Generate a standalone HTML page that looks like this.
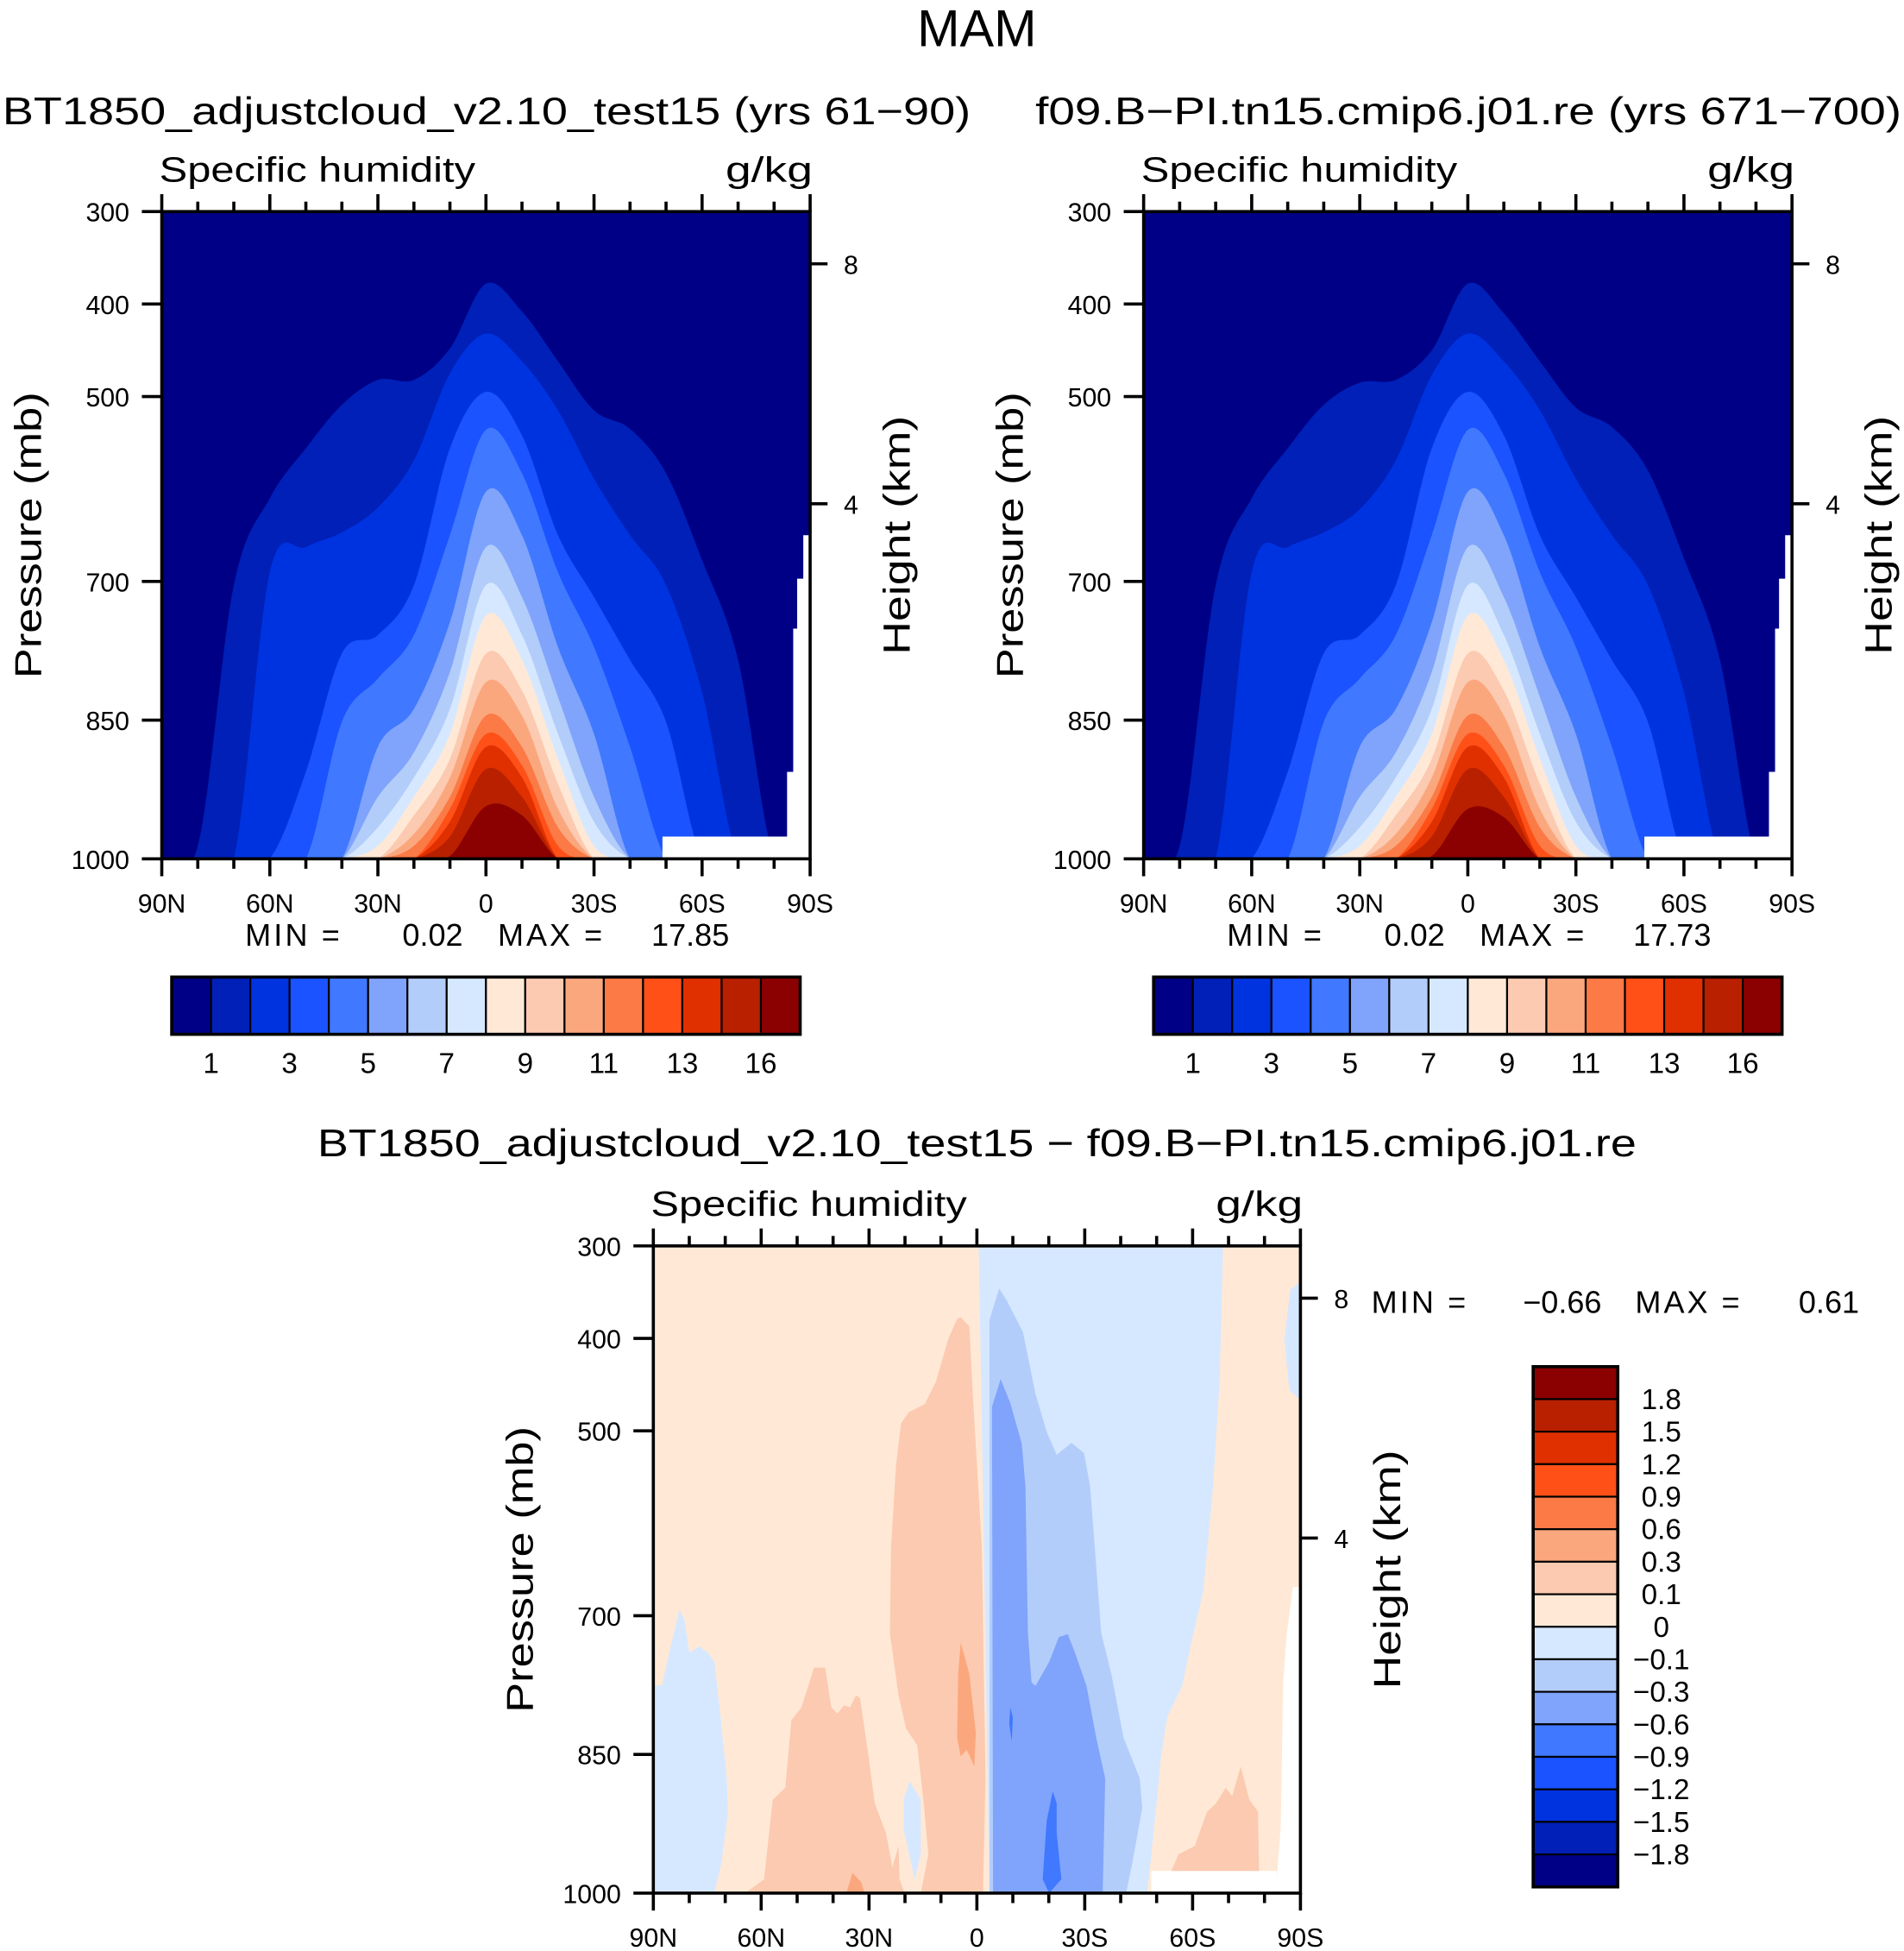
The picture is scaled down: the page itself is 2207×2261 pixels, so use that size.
<!DOCTYPE html>
<html><head><meta charset="utf-8"><style>
html,body{margin:0;padding:0;background:#fff;}
svg{display:block;font-family:"Liberation Sans",sans-serif;}
</style></head><body>
<svg id="fig" xmlns="http://www.w3.org/2000/svg" width="2207" height="2261" viewBox="0 0 1530 1567.5" preserveAspectRatio="none">
<rect x="0" y="0" width="1530" height="1567.5" fill="#fff"/>
<text x="785" y="37" font-size="42" text-anchor="middle" textLength="96" lengthAdjust="spacingAndGlyphs">MAM</text>
<text x="2" y="100" font-size="31" textLength="778" lengthAdjust="spacingAndGlyphs">BT1850_adjustcloud_v2.10_test15 (yrs 61−90)</text>
<text x="832" y="100" font-size="31" textLength="696" lengthAdjust="spacingAndGlyphs">f09.B−PI.tn15.cmip6.j01.re (yrs 671−700)</text>
<text x="255" y="929" font-size="31" textLength="1060" lengthAdjust="spacingAndGlyphs">BT1850_adjustcloud_v2.10_test15 − f09.B−PI.tn15.cmip6.j01.re</text>
<g id="layer"></g>
</svg>
<script>
const NS="http://www.w3.org/2000/svg";
const lats=[90,80,70,60,50,40,30,20,10,0,-10,-20,-30,-40,-50,-60,-70,-80,-90];
const latTicks=[90,60,30,0,-30,-60,-90];
const latTickLabels=["90N","60N","30N","0","30S","60S","90S"];
const presTicks=[300,400,500,700,850,1000];
const heightTicksP=[356.5,616];
const heightTickLabels=["8","4"];
const colors=['#000086','#0020b8','#0033e0','#1a53ff','#4078ff','#80a4fb','#b3cdfb','#d6e8ff','#ffe9d6','#fccab0','#fba77e','#fb7a45','#ff5018','#e03000','#b82000','#8b0000'];
const cbLabelsTop=["1","3","5","7","9","11","13","16"];
const cbLabelsDiff=["1.8","1.5","1.2","0.9","0.6","0.3","0.1","0","−0.1","−0.3","−0.6","−0.9","−1.2","−1.5","−1.8"];
const minMaxA=["0.02","17.85"];
const minMaxB=["0.02","17.73"];
const minMaxDiff=["−0.66","0.61"];
// contour-level top pressures (mb) at each latitude, left panel
const humTopsA=[
[1000,986,704,610,556,509,482,482,448,378,408,462,515,535,583,677,785,1000,1000],
[1000,1000,1000,690,663,647,620,569,475,432,462,515,589,650,704,820,1000,1000,1000],
[1000,1000,1000,1000,906,778,758,704,556,495,542,650,717,785,852,1000,1000,1000,1000],
[1000,1000,1000,1000,1000,852,805,758,650,536,583,690,771,879,1000,1000,1000,1000,1000],
[1000,1000,1000,1000,1000,1000,879,838,744,603,650,771,865,1000,1000,1000,1000,1000,1000],
[1000,1000,1000,1000,1000,1000,933,885,798,663,717,825,933,1000,1000,1000,1000,1000,1000],
[1000,1000,1000,1000,1000,1000,966,912,838,704,758,865,960,1000,1000,1000,1000,1000,1000],
[1000,1000,1000,1000,1000,1000,986,933,865,737,785,892,986,1000,1000,1000,1000,1000,1000],
[1000,1000,1000,1000,1000,1000,1000,953,892,778,818,919,1000,1000,1000,1000,1000,1000,1000],
[1000,1000,1000,1000,1000,1000,1000,973,912,809,845,946,1000,1000,1000,1000,1000,1000,1000],
[1000,1000,1000,1000,1000,1000,1000,986,933,845,879,966,1000,1000,1000,1000,1000,1000,1000],
[1000,1000,1000,1000,1000,1000,1000,1000,946,865,899,986,1000,1000,1000,1000,1000,1000,1000],
[1000,1000,1000,1000,1000,1000,1000,1000,960,879,912,1000,1000,1000,1000,1000,1000,1000,1000],
[1000,1000,1000,1000,1000,1000,1000,1000,976,903,933,1000,1000,1000,1000,1000,1000,1000,1000],
[1000,1000,1000,1000,1000,1000,1000,1000,997,943,953,1000,1000,1000,1000,1000,1000,1000,1000]];
// right panel
const humTopsB=[
[1000,986,704,610,556,509,485,482,450,378,410,462,512,533,580,675,785,1000,1000],
[1000,1000,1000,690,663,647,622,569,477,432,462,515,589,650,704,820,1000,1000,1000],
[1000,1000,1000,1000,906,778,758,704,556,495,542,650,717,785,852,1000,1000,1000,1000],
[1000,1000,1000,1000,1000,852,805,758,650,536,583,690,771,879,1000,1000,1000,1000,1000],
[1000,1000,1000,1000,1000,1000,879,838,744,603,650,771,865,1000,1000,1000,1000,1000,1000],
[1000,1000,1000,1000,1000,1000,933,885,798,663,717,825,933,1000,1000,1000,1000,1000,1000],
[1000,1000,1000,1000,1000,1000,966,912,838,704,758,865,960,1000,1000,1000,1000,1000,1000],
[1000,1000,1000,1000,1000,1000,986,933,865,737,785,892,986,1000,1000,1000,1000,1000,1000],
[1000,1000,1000,1000,1000,1000,1000,953,892,778,818,919,1000,1000,1000,1000,1000,1000,1000],
[1000,1000,1000,1000,1000,1000,1000,973,912,809,845,946,1000,1000,1000,1000,1000,1000,1000],
[1000,1000,1000,1000,1000,1000,1000,986,933,845,879,966,1000,1000,1000,1000,1000,1000,1000],
[1000,1000,1000,1000,1000,1000,1000,1000,946,865,899,986,1000,1000,1000,1000,1000,1000,1000],
[1000,1000,1000,1000,1000,1000,1000,1000,960,879,912,1000,1000,1000,1000,1000,1000,1000,1000],
[1000,1000,1000,1000,1000,1000,1000,1000,976,903,933,1000,1000,1000,1000,1000,1000,1000,1000],
[1000,1000,1000,1000,1000,1000,1000,1000,997,946,955,1000,1000,1000,1000,1000,1000,1000,1000]];
const missingLat=[-88.1,-90,-90,-49,-49,-83.6,-83.6,-85.3,-85.3,-86.4,-86.4,-88.1];
const missingP=[650,650,1000,1000,976,976,906,906,751,751,697,697];
// difference panel regions: colour index, lat vertices, pressure vertices
const diffColor=[7,7,7,7,6,5,4,4,9,9,9,10,10,10];
const diffLat=[
[-0.5,-68.5,-67.5,-65.7,-63,-59.5,-57.1,-53,-51.2,-49.5,-47.4,-3.5,-1.7],
[90,87.6,84.8,82.7,81.3,80,77.2,74.8,73,71.3,69.6,69.2,71,73,90],
[18.7,15.6,15.6,17.3,20.4,20.4],
[-90,-87.2,-85.5,-86.9,-90],
[-3.5,-6.2,-8.3,-12.8,-16.3,-19.4,-22.2,-26.3,-29.8,-31.5,-34.6,-37.4,-40.8,-45.3,-46,-43.3,-41.5,-3.5],
[-4.2,-6.6,-9.3,-12.5,-13.5,-14.2,-15.2,-16.3,-20.1,-22.8,-25.3,-27.3,-30.5,-33.2,-35.7,-35,-4.5],
[-19.4,-21.1,-22.2,-22.2,-23.5,-20.1,-18.3],
[-9.3,-10,-9.7,-9],
[5.5,4.5,2.1,1,-1.4,-2.4,-1.7,15.6,13.5,14.9,16.6,19.7,21.8,24.2,23.9,22.5,21.1,19,14.5,11.4,8],
[64.4,59.2,56.8,53.3,51.6,48.8,45.3,42.2,40.5,38.8,37,35.3,33.6,32.5,30.1,28.4,25.3,23.5,21.8,21.5,20.1],
[-47.8,-52.6,-56.1,-60.6,-64,-66.5,-69.2,-71,-73.4,-75.8,-78.2,-78.6],
[4.5,2.1,0.3,0.7,2.8,4.5,5.5,5.2],
[36.3,34.6,32.2,31.2],
[-67.5,-68.9,-71.7,-72.7]];
const diffP=[
[300,300,447,560,673,732,776,809,853,922,1000,1000,568],
[776,775,727,693,705,740,733,740,750,809,876,912,966,1000,1000],
[879,899,958,985,931,899],
[339,347,401,456,467],
[380,346,359,393,460,501,526,513,524,560,719,763,832,876,908,966,1000,1000],
[474,444,470,514,560,719,772,776,750,723,720,740,776,832,876,1000,1000],
[922,890,903,935,985,1000,985],
[799,810,836,817],
[379,377,387,470,627,876,1000,1000,958,899,840,822,786,719,627,537,492,480,471,447,401],
[1000,985,899,886,813,799,756,756,799,806,797,799,786,789,853,903,935,972,949,985,1000],
[1000,989,958,949,912,903,886,895,863,899,912,1000],
[729,763,826,863,845,852,832,763],
[1000,978,988,1000],
[1000,985,988,1000]];
const diffMissLat=[-87.9,-90,-90,-48.5,-48.5,-83.4,-83.4,-84.5,-85.2,-86.2];
const diffMissP=[669,669,1000,1000,976,976,985,931,772,720];

const layer=document.getElementById('layer');
function mk(tag,attrs,parent){const e=document.createElementNS(NS,tag);for(const k in attrs)e.setAttribute(k,attrs[k]);(parent||layer).appendChild(e);return e;}
function txt(s,attrs,parent){const e=mk('text',attrs,parent);e.textContent=s;return e;}

function panel(id,x0,y0,W,H){
  const sx=lat=>x0+(90-lat)/180*W;
  const sy=p=>y0+(p-300)/700*H;
  return {id,x0,y0,W,H,sx,sy};
}
function catmull(pts){
  let d=`M${pts[0][0]},${pts[0][1]}`;
  for(let i=0;i<pts.length-1;i++){
    const p0=pts[Math.max(0,i-1)],p1=pts[i],p2=pts[i+1],p3=pts[Math.min(pts.length-1,i+2)];
    const c1=[p1[0]+(p2[0]-p0[0])/6,p1[1]+(p2[1]-p0[1])/6];
    const c2=[p2[0]-(p3[0]-p1[0])/6,p2[1]-(p3[1]-p1[1])/6];
    d+=` C${c1[0]},${c1[1]} ${c2[0]},${c2[1]} ${p2[0]},${p2[1]}`;
  }
  return d;
}
function clip(P){
  const defs=mk('defs',{});
  const cp=mk('clipPath',{id:'clip-'+P.id},defs);
  mk('rect',{x:P.x0,y:P.y0,width:P.W,height:P.H},cp);
}
function minMax(x,y,vals,gapX){
  // gapX: x positions for [MIN =, minval(end), MAX =, maxval(end)]
  const g=mk('g',{});
  
  
  txt('MIN =',{x:gapX[0],y,'font-size':25,textLength:76,lengthAdjust:'spacing'},g);
  txt(vals[0],{x:gapX[1],y,'font-size':25,'text-anchor':'end'},g);
  txt('MAX =',{x:gapX[2],y,'font-size':25,textLength:84,lengthAdjust:'spacing'},g);
  txt(vals[1],{x:gapX[3],y,'font-size':25,'text-anchor':'end'},g);
}
function axes(P,labelY){
  const g=mk('g',{});
  
  
  mk('rect',{x:P.x0,y:P.y0,width:P.W,height:P.H,fill:'none',stroke:'#000','stroke-width':2.5},g);
  for(let lat=90;lat>=-90;lat-=10){
    const major=lat%30===0;const x=P.sx(lat);const l=major?14:8;
    mk('line',{x1:x,x2:x,y1:P.y0,y2:P.y0-l,stroke:'#000','stroke-width':2.5},g);
    mk('line',{x1:x,x2:x,y1:P.y0+P.H,y2:P.y0+P.H+l,stroke:'#000','stroke-width':2.5},g);
  }
  latTicks.forEach((lat,i)=>{
    const t=txt(latTickLabels[i],{x:P.sx(lat),y:labelY,'font-size':21,'text-anchor':'middle'},g);
    
    
  });
  presTicks.forEach(p=>{
    const y=P.sy(p);
    mk('line',{x1:P.x0,x2:P.x0-16,y1:y,y2:y,stroke:'#000','stroke-width':2.5},g);
    const t=txt(String(p),{x:P.x0-26,y:y+8,'font-size':21,'text-anchor':'end'},g);
    
    
  });
  heightTicksP.forEach((p,i)=>{
    const y=P.sy(p);
    mk('line',{x1:P.x0+P.W,x2:P.x0+P.W+14,y1:y,y2:y,stroke:'#000','stroke-width':2.5},g);
    const t=txt(heightTickLabels[i],{x:P.x0+P.W+27,y:y+8,'font-size':21},g);
    
    
  });
  const cy=P.y0+P.H/2;
  const a=txt('Pressure (mb)',{x:0,y:0,'font-size':30,'text-anchor':'middle',transform:`translate(${P.x0-97},${cy}) rotate(-90)`,textLength:230,lengthAdjust:'spacingAndGlyphs'},g);
  
  
  const b=txt('Height (km)',{x:0,y:0,'font-size':30,'text-anchor':'middle',transform:`translate(${P.x0+P.W+80},${cy}) rotate(-90)`,textLength:192,lengthAdjust:'spacingAndGlyphs'},g);
  
  
  const s=txt('Specific humidity',{x:P.x0-2,y:P.y0-24,'font-size':28,textLength:254,lengthAdjust:'spacingAndGlyphs'},g);
  
  
  const u=txt('g/kg',{x:P.x0+P.W+2,y:P.y0-24,'font-size':28,'text-anchor':'end',textLength:70,lengthAdjust:'spacingAndGlyphs'},g);
  
  
}
function humPanel(P,tops,mmVals){
  clip(P);
  const g=mk('g',{'clip-path':`url(#clip-${P.id})`});
  
  
  const bg=mk('rect',{x:P.x0,y:P.y0,width:P.W,height:P.H,fill:colors[0]},g);
  
  
  tops.forEach((arr,k)=>{
    const pts=arr.map((p,i)=>[P.sx(lats[i]),P.sy(p)]);
    let d=catmull(pts)+` L${P.sx(-90)},${P.sy(1000)+5} L${P.sx(90)},${P.sy(1000)+5} Z`;
    const e=mk('path',{d,fill:colors[k+1]},g);
    
    
  });
  const mpts=missingLat.map((l,i)=>`${P.sx(l)},${P.sy(missingP[i])}`).join(' ');
  const m=mk('polygon',{points:mpts,fill:'#fff'},g);
  
  
  axes(P,733);
  const o=P.x0-130;
  minMax(o,760,mmVals,[197+o,372+o,400+o,586+o]);
}
function hBar(x0,y0,w,h,id){
  const g=mk('g',{});
  
  
  const bw=w/16;
  colors.forEach((c,i)=>{
    const r=mk('rect',{x:x0+i*bw,y:y0,width:bw,height:h,fill:c,stroke:'#000','stroke-width':1.5},g);
    
    
  });
  mk('rect',{x:x0,y:y0,width:w,height:h,fill:'none',stroke:'#000','stroke-width':2.5},g);
  cbLabelsTop.forEach((s,i)=>{
    const t=txt(s,{x:x0+(2*i+1)*bw,y:y0+h+31,'font-size':23,'text-anchor':'middle'},g);
    
    
  });
}
const P1=panel('left-panel',130,170,521,520);
const P2=panel('right-panel',919,170,521,520);
humPanel(P1,humTopsA,minMaxA);
humPanel(P2,humTopsB,minMaxB);
hBar(138,785,505,46,'left-colorbar');
hBar(927,785,505,46,'right-colorbar');

// difference panel
const P3=panel('diff-panel',525,1001,520,520);
clip(P3);
const g3=mk('g',{'clip-path':'url(#clip-diff-panel)'});


const bg3=mk('rect',{x:P3.x0,y:P3.y0,width:P3.W,height:P3.H,fill:colors[8]},g3);


diffLat.forEach((arr,k)=>{
  const pts=arr.map((l,i)=>`${P3.sx(l)},${P3.sy(diffP[k][i])}`).join(' ');
  const e=mk('polygon',{points:pts,fill:colors[diffColor[k]]},g3);
  
  
});
const dm=mk('polygon',{points:diffMissLat.map((l,i)=>`${P3.sx(l)},${P3.sy(diffMissP[i])}`).join(' '),fill:'#fff'},g3);


axes(P3,1564);
minMax(0,1055,minMaxDiff,[1102,1287,1314,1494]);
// vertical colorbar
const gv=mk('g',{});


const vx=1232,vy=1098,vw=68,vh=418,bh=vh/16;
colors.slice().reverse().forEach((c,i)=>{
  const r=mk('rect',{x:vx,y:vy+i*bh,width:vw,height:bh,fill:c,stroke:'#000','stroke-width':1.5},gv);
  
  
});
mk('rect',{x:vx,y:vy,width:vw,height:vh,fill:'none',stroke:'#000','stroke-width':2.5},gv);
cbLabelsDiff.forEach((s,i)=>{
  const t=txt(s,{x:1335,y:vy+(i+1)*bh+8,'font-size':23,'text-anchor':'middle'},gv);
  
  
});
</script>
</body></html>
